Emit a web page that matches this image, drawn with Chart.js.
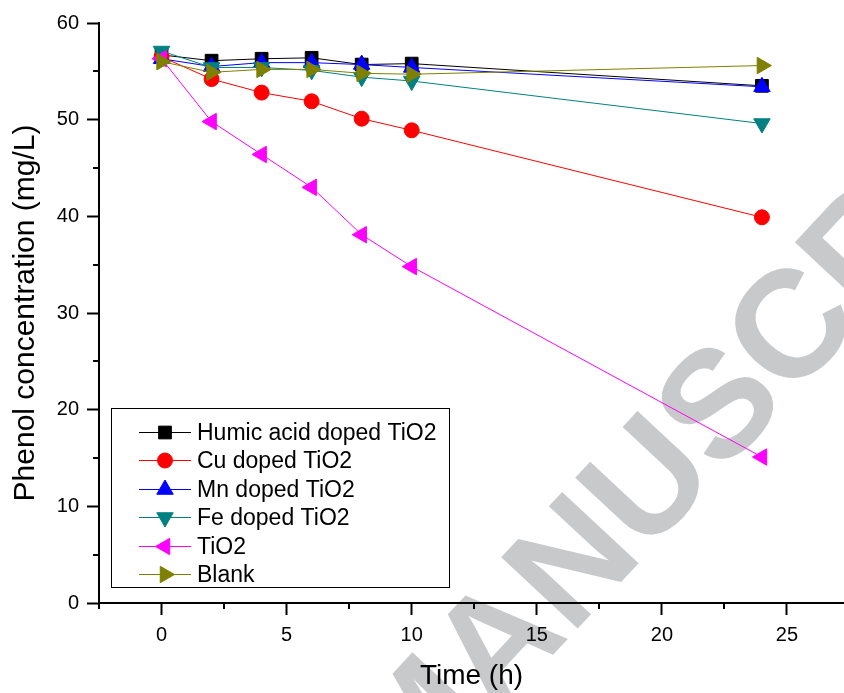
<!DOCTYPE html>
<html>
<head>
<meta charset="utf-8">
<title>Phenol concentration</title>
<script src="https://cdn.jsdelivr.net/npm/chart.js@4.4.1/dist/chart.umd.min.js"></script>
<style>
  body { margin: 0; background: #fff; }
  #graph { display: block; }
</style>
</head>
<body>
<canvas id="graph" width="844" height="693"></canvas>
<script>
// sampling times (h)
const temps = [0, 2, 4, 6, 8, 10, 24];

// phenol concentration (mg/L) for each catalyst
const humique = [56.7, 56.1, 56.3, 56.4, 55.7, 55.8, 53.5];
const cuivre = [56.5, 54.2, 52.8, 51.9, 50.1, 48.9, 39.9];
const manganese = [56.3, 55.5, 55.9, 55.9, 55.7, 55.4, 53.4];
const fer = [57.1, 55.4, 55.4, 55.1, 54.4, 54.0, 49.6];
const tio2 = [56.3, 49.8, 46.4, 43.0, 38.1, 34.8, 15.1];
const blanc = [56.0, 54.9, 55.2, 55.2, 54.8, 54.7, 55.6];

const noms = ["Humic acid doped TiO2", "Cu doped TiO2", "Mn doped TiO2", "Fe doped TiO2", "TiO2", "Blank"];
const xTicks = [0, 5, 10, 15, 20, 25];
const yTicks = [0, 10, 20, 30, 40, 50, 60];

const police = "'Liberation Sans', Arial, Helvetica, sans-serif";

const serie = (i, valeurs, couleur, forme, rot, taille) => ({
    label: noms[i],
    data: temps.map((t, k) => ({ x: t, y: valeurs[k] })),
    borderColor: couleur,
    backgroundColor: couleur,
    borderWidth: 1,
    pointStyle: forme,
    rotation: rot,
    pointRadius: taille,
    pointHoverRadius: taille,
    pointBorderWidth: 1,
    pointBackgroundColor: couleur,
    pointBorderColor: couleur,
    order: 6 - i
});

const donnees = [
    serie(0, humique, "#000000", "rect", 0, 9),
    serie(1, cuivre, "#ff0000", "circle", 0, 7.5),
    serie(2, manganese, "#0000ff", "triangle", 0, 9.5),
    serie(3, fer, "#008080", "triangle", 180, 9.5),
    serie(4, tio2, "#ff00ff", "triangle", 270, 9.5),
    serie(5, blanc, "#808000", "triangle", 90, 9.5)
];

// grey watermark sitting under everything
const filigrane = {
    id: "filigrane",
    beforeDraw(chart) {
        const ctx = chart.ctx;
        ctx.save();
        ctx.fillStyle = "#c8c9cb";
        ctx.font = "bold 152px " + police;
        ctx.textBaseline = "alphabetic";
        ctx.translate(370, 772);
        ctx.rotate(-47 * Math.PI / 180);
        ctx.fillText("MANUSCRIPT", 0, 54);
        ctx.restore();
    }
};

// short minor ticks between the labelled ones
const petitsTraits = {
    id: "petitsTraits",
    afterDraw(chart) {
        const ctx = chart.ctx;
        const sx = chart.scales.x;
        const sy = chart.scales.y;
        ctx.save();
        ctx.strokeStyle = "#000";
        ctx.lineWidth = 2;
        ctx.beginPath();
        for (let v = -2.5; v <= sx.max; v += 5) {
            const px = Math.round(sx.getPixelForValue(v));
            ctx.moveTo(px, sy.bottom);
            ctx.lineTo(px, sy.bottom + 6);
        }
        for (let v = 5; v < sy.max; v += 10) {
            const py = Math.round(sy.getPixelForValue(v));
            ctx.moveTo(sx.left, py);
            ctx.lineTo(sx.left - 6, py);
        }
        ctx.stroke();
        ctx.restore();
    }
};

// boxed legend with line + marker samples
const legende = {
    id: "legende",
    afterDraw(chart) {
        const ctx = chart.ctx;
        ctx.save();
        ctx.fillStyle = "#fff";
        ctx.fillRect(111, 408, 338, 179);
        ctx.strokeStyle = "#000";
        ctx.lineWidth = 1;
        ctx.strokeRect(111.5, 408.5, 338, 179);
        ctx.font = "23px " + police;
        ctx.textBaseline = "middle";
        chart.data.datasets.forEach((d, i) => {
            const y = Math.round(432 + i * 28.4) + 0.5;
            ctx.strokeStyle = d.borderColor;
            ctx.lineWidth = 1;
            ctx.beginPath();
            ctx.moveTo(139, y);
            ctx.lineTo(191, y);
            ctx.stroke();
            ctx.fillStyle = d.borderColor;
            Chart.helpers.drawPoint(ctx, {
                pointStyle: d.pointStyle,
                radius: d.pointRadius,
                rotation: d.rotation,
                borderWidth: 1
            }, 165, y);
            ctx.fillStyle = "#000";
            ctx.fillText(d.label, 197, y + 1);
        });
        ctx.restore();
    }
};

const config = {
    type: "line",
    data: { datasets: donnees },
    options: {
        responsive: false,
        animation: false,
        events: [],
        layout: { autoPadding: false, padding: { top: 23, right: 0, left: 0, bottom: 0 } },
        plugins: { legend: { display: false }, tooltip: { enabled: false } },
        scales: {
            x: {
                type: "linear",
                min: -2.5,
                max: 27.28,
                afterBuildTicks: (s) => { s.ticks = xTicks.map(v => ({ value: v })); },
                afterFit: (s) => { s.height = 90; s.paddingLeft = 0; s.paddingRight = 0; },
                border: { display: true, color: "#000", width: 2 },
                grid: { drawOnChartArea: false, drawTicks: true, tickLength: 12, tickWidth: 2, tickColor: "#000" },
                ticks: { color: "#000", padding: 8, maxRotation: 0, autoSkip: false, font: { family: police, size: 20 } },
                title: { display: true, text: "Time (h)", color: "#000", padding: 0, font: { family: police, size: 28 } }
            },
            y: {
                type: "linear",
                min: 0,
                max: 60,
                afterBuildTicks: (s) => { s.ticks = yTicks.map(v => ({ value: v })); },
                afterFit: (s) => { s.width = 99; },
                border: { display: true, color: "#000", width: 2 },
                grid: { drawOnChartArea: false, drawTicks: true, tickLength: 12, tickWidth: 2, tickColor: "#000" },
                ticks: { color: "#000", padding: 8, font: { family: police, size: 20 } },
                title: { display: true, text: "Phenol concentration (mg/L)", color: "#000", padding: { top: 8, bottom: 0 }, font: { family: police, size: 30 } }
            }
        }
    },
    plugins: [filigrane, petitsTraits, legende]
};

const graphique = new Chart(document.getElementById("graph").getContext("2d"), config);
</script>
</body>
</html>
